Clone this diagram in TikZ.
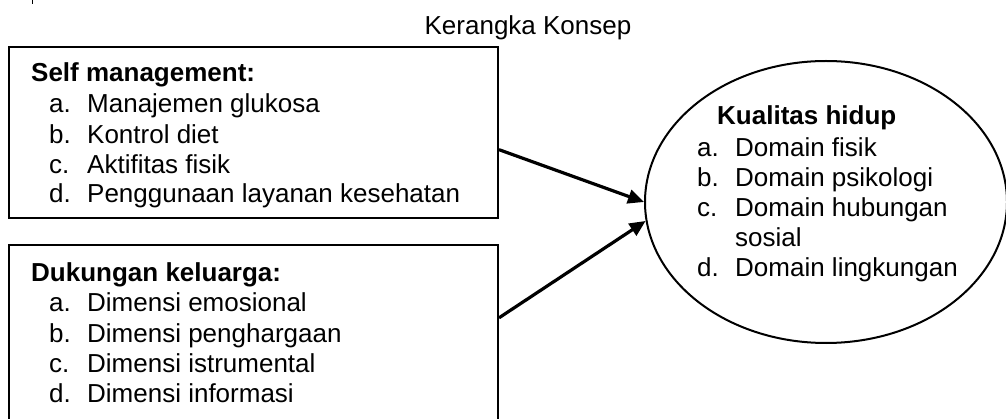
\documentclass[tikz,border=0pt]{standalone}
\usepackage{fontspec}
\setmainfont{Liberation Sans}
\usetikzlibrary{arrows.meta,shapes.geometric}
\tikzset{
  boxnode/.style={draw,line width=2pt,inner sep=0pt,minimum width=489pt},
  ellnode/.style={draw,ellipse,line width=2pt,inner sep=0pt,minimum width=362pt,minimum height=282pt},
  txt/.style={anchor=base west,inner sep=0pt,font=\fontsize{26pt}{30pt}\selectfont},
  hdr/.style={txt,font=\fontsize{26pt}{30pt}\selectfont\bfseries},
  arr/.style={line width=3.2pt,-{Triangle[length=16pt,width=14pt]}}
}
\begin{document}
\begin{tikzpicture}[x=1pt,y=-1pt]
\useasboundingbox (0,0) rectangle (1006,419);
% fragment at top left
\draw[line width=1.6pt] (32.5,0) -- (32.5,4);
% title
\node[txt,anchor=base] (title) at (528,35) {Kerangka Konsep};
% box 1
\node[boxnode,minimum height=171pt] (sm) at (253.5,132.5) {};
\node[hdr] (smh) at (31,82) {Self management:};
\node[txt] (sma) at (49,113) {a.};
\node[txt] (smat) at (87,113) {Manajemen glukosa};
\node[txt] (smb) at (49,144) {b.};
\node[txt] (smbt) at (87,144) {Kontrol diet};
\node[txt] (smc) at (49,174) {c.};
\node[txt] (smct) at (87,174) {Aktifitas fisik};
\node[txt] (smd) at (49,203) {d.};
\node[txt] (smdt) at (87,203) {Penggunaan layanan kesehatan};
% box 2
\node[boxnode,minimum height=180pt] (dk) at (253.5,335) {};
\node[hdr] (dkh) at (31,282) {Dukungan keluarga:};
\node[txt] (dka) at (49,312) {a.};
\node[txt] (dkat) at (87,312) {Dimensi emosional};
\node[txt] (dkb) at (49,342) {b.};
\node[txt] (dkbt) at (87,342) {Dimensi penghargaan};
\node[txt] (dkc) at (49,372) {c.};
\node[txt] (dkct) at (87,372) {Dimensi istrumental};
\node[txt] (dkd) at (49,402) {d.};
\node[txt] (dkdt) at (87,402) {Dimensi informasi};
% ellipse
\node[ellnode] (kh) at (826,202) {};
\node[hdr] (khh) at (717,125) {Kualitas hidup};
\node[txt] (kha) at (697,157) {a.};
\node[txt] (khat) at (735,157) {Domain fisik};
\node[txt] (khb) at (697,187) {b.};
\node[txt] (khbt) at (735,187) {Domain psikologi};
\node[txt] (khc) at (697,217) {c.};
\node[txt] (khct) at (735,217) {Domain hubungan};
\node[txt] (khct2) at (735,247) {sosial};
\node[txt] (khd) at (697,277) {d.};
\node[txt] (khdt) at (735,277) {Domain lingkungan};
% arrows
\draw[arr] (sm.-4.8) -- (kh.180.5);
\draw[arr] (dk.4) -- (kh.186);
\end{tikzpicture}
\end{document}
